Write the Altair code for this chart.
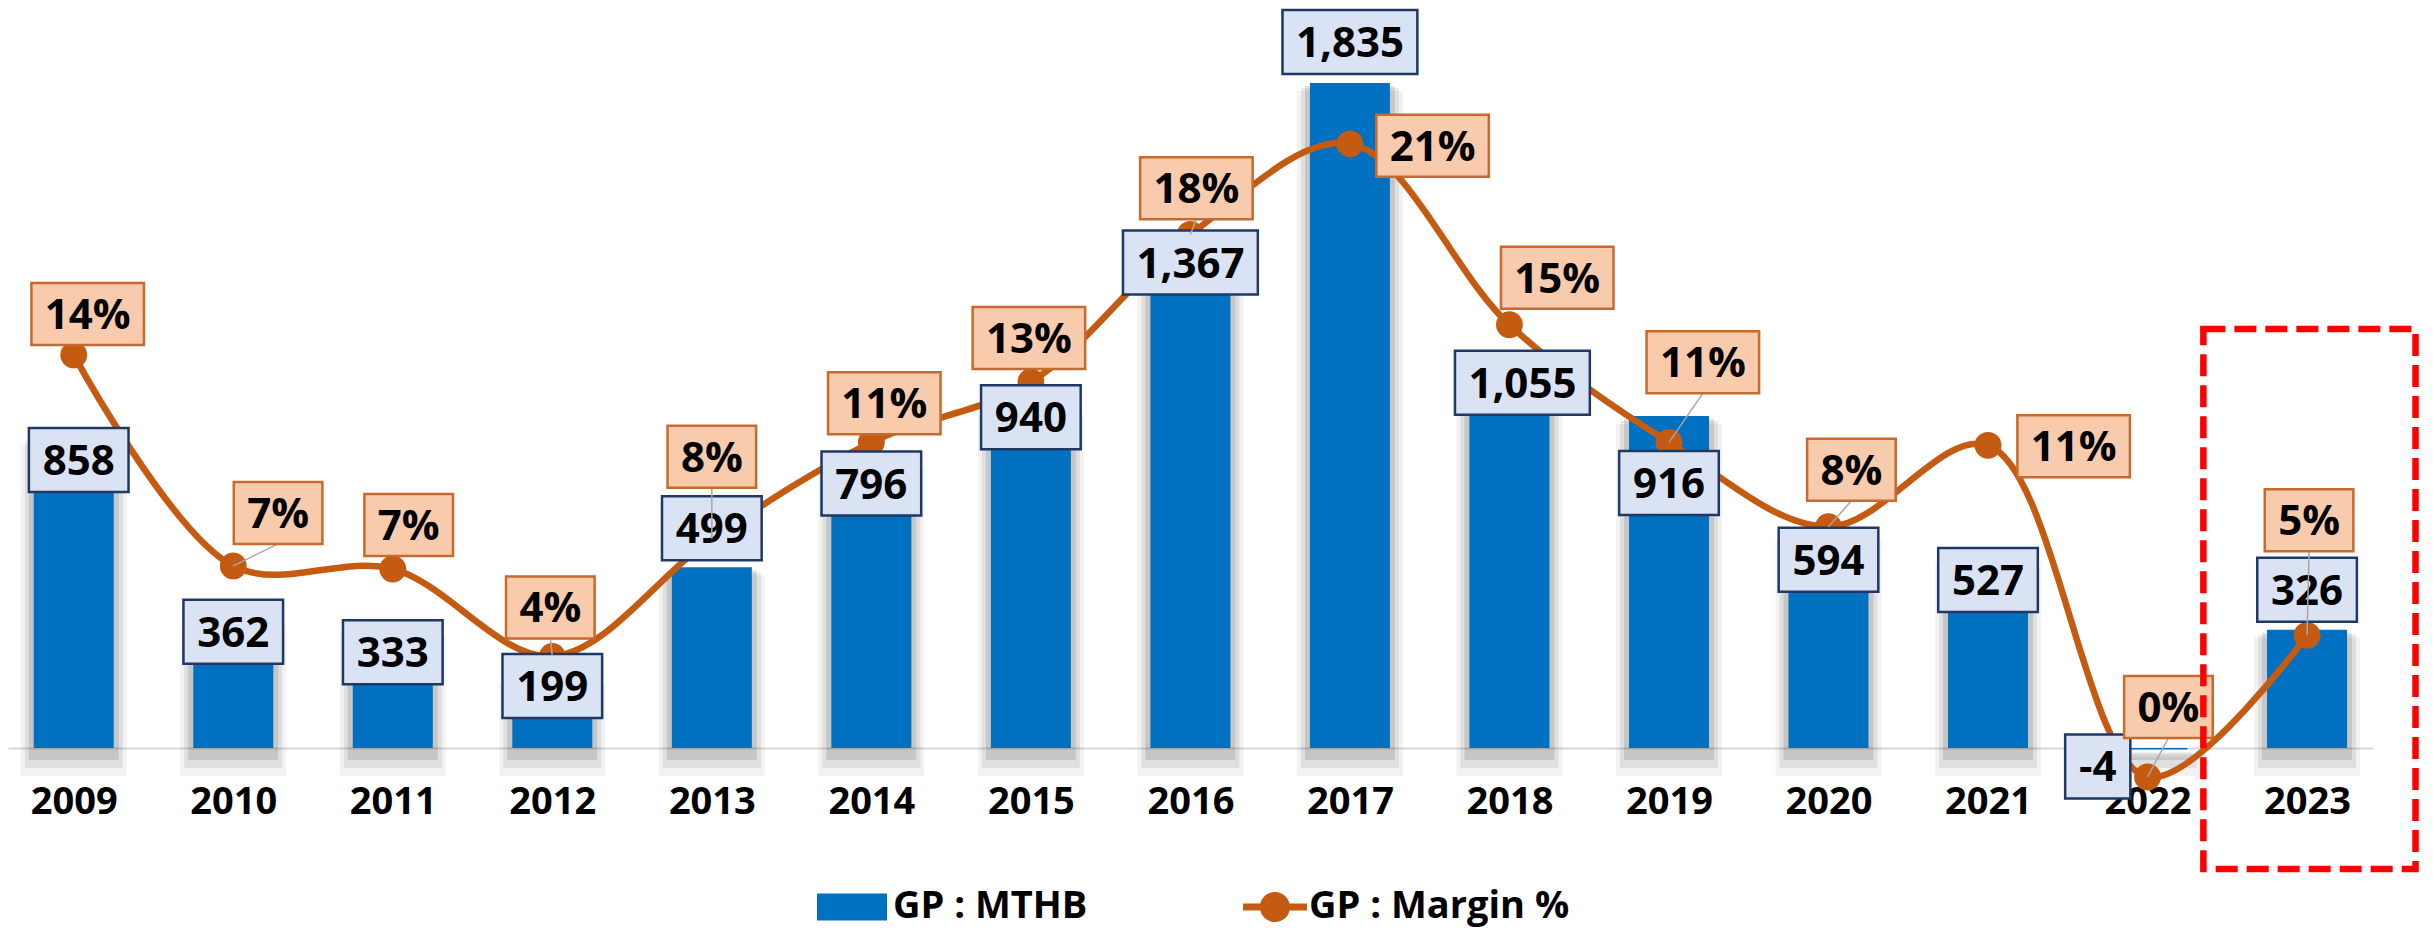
import altair as alt
import pandas as pd

# ---------------- data ----------------
years = list(range(2009, 2024))
gp_mthb = [858, 362, 333, 199, 499, 796, 940, 1367, 1835, 1055, 916, 594, 527, -4, 326]
gp_margin_pct = [14.0, 7.0, 6.9, 4.0, 7.9, 11.1, 13.1, 18.0, 21.0, 15.0, 11.1, 8.3, 11.0, 0.0, 4.7]
margin_labels = ["14%", "7%", "7%", "4%", "8%", "11%", "13%", "18%", "21%", "15%",
                 "11%", "8%", "11%", "0%", "5%"]
series_bar = "GP : MTHB"
series_line = "GP : Margin %"

# ---------------- label layout (pixel nudges of the label boxes) ----------------
bar_label_dx = [5, 0, 0, 0, 0, 0, 0, 0, 0, 13, 0, 0, 0, -50, 0]
bar_label_dy = [23, 15, 25, 10, -39, 24, 10, 10, -41, 17, 67, 27, 23, 17, -40]
pct_label_dx = [14, 45, 16, -2, 0, 13, -2, 6, 83, 48, 34, 23, 86, 21, 2]
pct_label_dy = [-41, -53, -44, -49, -82, -39, -44, -46, 2, -47, -80, -57, 1, -70, -115]
leader_years = [2010, 2012, 2013, 2016, 2019, 2020, 2022, 2023]
highlight_x = [2022.35, 2023.68]
highlight_y = [-334, 1156]

# ---------------- styles ----------------
BAR_COLOR = "#0070C0"
LINE_COLOR = "#C55A11"
BAR_BOX_FILL = "#DAE3F3"
BAR_BOX_STROKE = "#1F3864"
PCT_BOX_FILL = "#F8CBAD"
PCT_BOX_STROKE = "#C8692E"
FONT = "Open Sans"

# ---------------- scale geometry ----------------
STEP = 160.2
PLOT_W = 2365
PLOT_H = 740
FIRST_CENTER = 61
X_MIN = years[0] - FIRST_CENTER / STEP
X_MAX = X_MIN + PLOT_W / STEP
GP_PX = 0.3624
GP_MAX = PLOT_H / GP_PX
PCT_PX = 30.15
PCT_ZERO = 769
PCT_MIN = (PCT_ZERO - PLOT_H) / PCT_PX
PCT_MAX = PCT_ZERO / PCT_PX

LABEL_SIZE = 42
EM = {d: 0.572 for d in "0123456789"}
EM.update({",": 0.27, "-": 0.32, "%": 0.88})


def box_w(t):
    return 28 + LABEL_SIZE * sum(EM.get(c, 0.6) for c in t)


rows = []
for i, yr in enumerate(years):
    v = gp_mthb[i]
    p = gp_margin_pct[i]
    btxt = f"{v:,}"
    bcx = yr + bar_label_dx[i] / STEP
    bcy = v - bar_label_dy[i] / GP_PX
    bw = box_w(btxt) / 2 / STEP
    bh = 32 / GP_PX
    ptxt = margin_labels[i]
    pcx = yr + pct_label_dx[i] / STEP
    pcy = p - pct_label_dy[i] / PCT_PX
    pw = box_w(ptxt) / 2 / STEP
    ph = 31 / PCT_PX
    rows.append(dict(
        year=yr, gp=v, pct=p, bar_text=btxt, pct_text=ptxt,
        sbar=series_bar, sline=series_line,
        bx0=bcx - bw, bx1=bcx + bw, by0=bcy - bh, by1=bcy + bh, btx=bcx, bty=bcy,
        px0=pcx - pw, px1=pcx + pw, py0=pcy - ph, py1=pcy + ph, ptx=pcx, pty=pcy,
        lead=yr in leader_years, ly=pcy - ph,
    ))
df = pd.DataFrame(rows)
hl = pd.DataFrame({"x0": [highlight_x[0]], "x1": [highlight_x[1]],
                   "y0": [highlight_y[0]], "y1": [highlight_y[1]]})

xscale = alt.Scale(domain=[X_MIN, X_MAX], nice=False, zero=False)
gscale = alt.Scale(domain=[0, GP_MAX], nice=False, zero=False)
pscale = alt.Scale(domain=[PCT_MIN, PCT_MAX], nice=False, zero=False)
xaxis = alt.Axis(values=years, format="d", labelFont=FONT, labelFontWeight="bold",
                 labelFontSize=38, labelColor="#000000", labelPadding=35, ticks=False,
                 grid=False, domainColor="#D9D9D9", domainWidth=2, labelFlush=False,
                 labelOverlap=False)


def X(f):
    return alt.X(f"{f}:Q", scale=xscale, axis=xaxis, title=None)


def X2(f):
    return alt.X2(f"{f}:Q")


def YG(f):
    return alt.Y(f"{f}:Q", scale=gscale, axis=None)


def YP(f):
    return alt.Y(f"{f}:Q", scale=pscale, axis=None)


base = alt.Chart(df)

shadows = []
for w, op, yo, y2o in [(106, 0.05, 8, 28), (98, 0.08, 5, 20), (90, 0.11, 3, 12)]:
    shadows.append(
        base.mark_bar(color="#000000", opacity=op, width=w, yOffset=yo, y2Offset=y2o)
        .encode(x=X("year"), y=YG("gp"), y2=alt.datum(0))
    )

bars = base.mark_bar(width=80).encode(
    x=X("year"), y=YG("gp"), y2=alt.datum(0),
    color=alt.Color("sbar:N", title=None,
                    scale=alt.Scale(domain=[series_bar], range=[BAR_COLOR]),
                    legend=alt.Legend(orient="none", legendX=809, legendY=864,
                                      symbolType="M-1,-0.386L1,-0.386L1,0.386L-1,0.386Z",
                                      symbolSize=4900, symbolStrokeWidth=0,
                                      labelFont=FONT, labelFontWeight="bold",
                                      labelFontSize=38, labelColor="#000000",
                                      labelOffset=6, labelLimit=600, padding=0)),
)

line = base.mark_line(interpolate="catmull-rom", color=LINE_COLOR, strokeWidth=6.5).encode(
    x=X("year"), y=YP("pct"))

dots = base.mark_circle(size=720, opacity=1).encode(
    x=X("year"), y=YP("pct"),
    fill=alt.Fill("sline:N", title=None,
                  scale=alt.Scale(domain=[series_line], range=[LINE_COLOR]),
                  legend=alt.Legend(orient="none", legendX=1235, legendY=867,
                                    symbolType="M-1,-0.11L1,-0.11L1,0.11L-1,0.11Z"
                                               "M0.47,0A0.47,0.47 0 1,1 -0.47,0A0.47,0.47 0 1,1 0.47,0Z",
                                    symbolSize=4096, symbolStrokeWidth=0,
                                    labelFont=FONT, labelFontWeight="bold",
                                    labelFontSize=38, labelColor="#000000",
                                    labelOffset=2, labelLimit=600, padding=0)),
)

bar_boxes = base.mark_rect(fill=BAR_BOX_FILL, stroke=BAR_BOX_STROKE, strokeWidth=2.5).encode(
    x=X("bx0"), x2=X2("bx1"), y=YG("by0"), y2=alt.Y2("by1:Q"))
bar_text = base.mark_text(font=FONT, fontWeight="bold", fontSize=LABEL_SIZE, color="#000000",
                          baseline="middle", dy=2).encode(
    x=X("btx"), y=YG("bty"), text="bar_text:N")

leaders = base.transform_filter("datum.lead").mark_rule(color="#A6A6A6", strokeWidth=1.5).encode(
    x=X("year"), x2=X2("ptx"), y=YP("pct"), y2=alt.Y2("ly:Q"))

pct_boxes = base.mark_rect(fill=PCT_BOX_FILL, stroke=PCT_BOX_STROKE, strokeWidth=2.5).encode(
    x=X("px0"), x2=X2("px1"), y=YP("py0"), y2=alt.Y2("py1:Q"))
pct_text = base.mark_text(font=FONT, fontWeight="bold", fontSize=LABEL_SIZE, color="#000000",
                          baseline="middle", dy=2).encode(
    x=X("ptx"), y=YP("pty"), text="pct_text:N")

highlight = alt.Chart(hl).mark_rect(fillOpacity=0, stroke="#FF0000", strokeWidth=6.5,
                                    strokeDash=[22, 9]).encode(
    x=X("x0"), x2=X2("x1"), y=YG("y0"), y2=alt.Y2("y1:Q"))

chart = alt.layer(
    *shadows, bars, line, dots, bar_boxes, bar_text, leaders, pct_boxes, pct_text, highlight
).resolve_scale(y="independent").properties(
    width=PLOT_W, height=PLOT_H,
    padding={"left": 0, "top": 0, "right": 52, "bottom": 180},
    autosize=alt.AutoSizeParams(type="none"),
    background="#FFFFFF",
).configure_view(strokeWidth=0)

chart.save("out.html", embed_options={"renderer": "svg", "actions": False})
